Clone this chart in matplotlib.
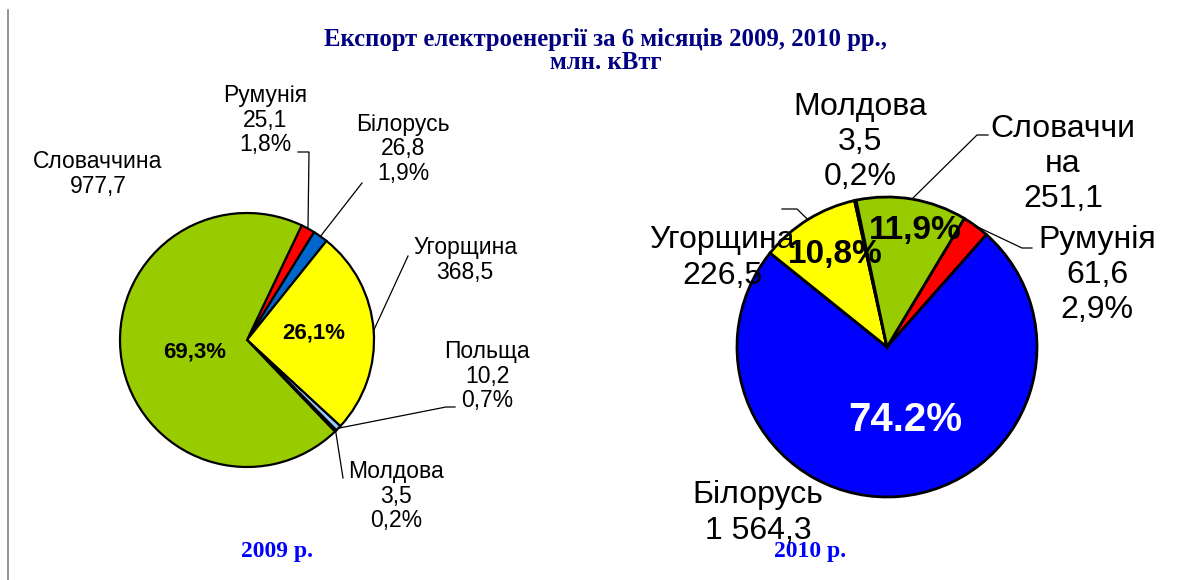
import numpy as np
import matplotlib.pyplot as plt

# 2009 data (clockwise from the top)
countries_2009 = ["Румунія", "Білорусь", "Угорщина", "Польща", "Молдова", "Словаччина"]
values_2009 = [25.1, 26.8, 368.5, 10.2, 3.5, 977.7]
pct_2009 = ["1,8%", "1,9%", "26,1%", "0,7%", "0,2%", "69,3%"]
colors_2009 = ["#FF0000", "#0066CC", "#FFFF00", "#99CCFF", "#000080", "#99CC00"]

# 2010 data
countries_2010 = ["Румунія", "Білорусь", "Угорщина", "Молдова", "Словаччина"]
values_2010 = [61.6, 1564.3, 226.5, 3.5, 251.1]
pct_2010 = ["2,9%", "74.2%", "10,8%", "0,2%", "11,9%"]
colors_2010 = ["#FF0000", "#0000FF", "#FFFF00", "#222222", "#99CC00"]

W, H = 1192, 580


def px(x, y):
    # image pixel -> data coords
    return x, H - y


def fmt_val(v):
    return f"{v:,.1f}".replace(",", " ").replace(".", ",")


plt.rcParams["font.family"] = ["Liberation Sans", "DejaVu Sans"]

fig = plt.figure(figsize=(W / 100, H / 100), dpi=100)
ax = fig.add_axes([0, 0, 1, 1])
ax.set_xlim(0, W)
ax.set_ylim(0, H)
ax.set_aspect("equal")
ax.axis("off")

# left border line
ax.plot([8, 8], [0, H - 10], color="#808080", lw=1.2)

# title
ax.text(*px(606, 51), "Експорт електроенергії за 6 місяців 2009, 2010 рр.,\nмлн. кВтг",
        ha="center", va="center", fontsize=17.8, fontweight="bold", color="#000080",
        family="Liberation Serif", linespacing=0.95)


def draw_pie(values, colors, center, radius, start, lw):
    wedges, _ = ax.pie(values, colors=colors, center=px(*center), radius=radius,
                       startangle=start, counterclock=False, frame=True,
                       wedgeprops=dict(edgecolor="black", linewidth=lw))
    return wedges


def edge_point(w, center, radius):
    a = np.deg2rad((w.theta1 + w.theta2) / 2)
    cx, cy = px(*center)
    return cx + radius * np.cos(a), cy + radius * np.sin(a)


# ---- 2009 ----
c1, r1 = (247, 340), 127
w1 = draw_pie(values_2009, colors_2009, c1, r1, 64.5, 1.6)

# outside labels: (text position, elbow points, show percent)
lab_2009 = {
    "Румунія": ((265, 120), [(298, 152), (309, 152)], True),
    "Білорусь": ((403, 149), [(362, 183)], True),
    "Угорщина": ((465, 260), [(408, 256)], False),
    "Польща": ((487, 376), [(455, 407), (446, 407)], True),
    "Молдова": ((396, 496), [(343, 478)], True),
    "Словаччина": ((98, 174), [], False),
}
for i, name in enumerate(countries_2009):
    pos, elbow, show_pct = lab_2009[name]
    txt = name + "\n" + fmt_val(values_2009[i])
    if show_pct:
        txt += "\n" + pct_2009[i]
    ax.text(*px(*pos), txt, ha="center", va="center", fontsize=16.5, linespacing=1.08)
    if elbow:
        pts = [px(*p) for p in elbow] + [edge_point(w1[i], c1, r1)]
        xs, ys = zip(*pts)
        ax.plot(xs, ys, color="black", lw=0.9)

ax.text(*px(195, 352), pct_2009[5], ha="center", va="center", fontsize=16, fontweight="bold")
ax.text(*px(314, 333), pct_2009[2], ha="center", va="center", fontsize=16, fontweight="bold")

ax.text(*px(277, 551), "2009 р.", ha="center", va="center", fontsize=17,
        fontweight="bold", color="#0000FF", family="Liberation Serif")

# ---- 2010 ----
c2, r2 = (887, 347), 150
w2 = draw_pie(values_2010, colors_2010, c2, r2, 59, 2.0)

lab_2010 = {
    "Румунія": ((1097, 275), [(1032, 248), (1022, 248)], True, "Румунія"),
    "Білорусь": ((758, 513), [], False, "Білорусь"),
    "Угорщина": ((722, 258), [(782, 209), (797, 209)], False, "Угорщина"),
    "Молдова": ((860, 142), [], True, "Молдова"),
    "Словаччина": ((1063, 164), [(988, 135), (977, 135)], False, "Словаччи\nна"),
}

for i, name in enumerate(countries_2010):
    pos, elbow, show_pct, shown = lab_2010[name]
    txt = shown + "\n" + fmt_val(values_2010[i])
    if show_pct:
        txt += "\n" + pct_2010[i]
    ax.text(*px(*pos), txt, ha="center", va="center", fontsize=23, linespacing=1.22, zorder=5)
    if elbow:
        pts = [px(*p) for p in elbow] + [edge_point(w2[i], c2, r2)]
        xs, ys = zip(*pts)
        ax.plot(xs, ys, color="black", lw=0.9)

ax.text(*px(810, 551), "2010 р.", ha="center", va="center", fontsize=17,
        fontweight="bold", color="#0000FF", family="Liberation Serif", zorder=6)

ax.text(*px(905, 420), pct_2010[1], ha="center", va="center", fontsize=29,
        fontweight="bold", color="white")
ax.text(*px(915, 230), pct_2010[4], ha="center", va="center", fontsize=24, fontweight="bold")
ax.text(*px(835, 255), pct_2010[2], ha="center", va="center", fontsize=24, fontweight="bold")

ax.set_xlim(0, W)
ax.set_ylim(0, H)
ax.axis("off")

plt.savefig("out.png", dpi=100)
